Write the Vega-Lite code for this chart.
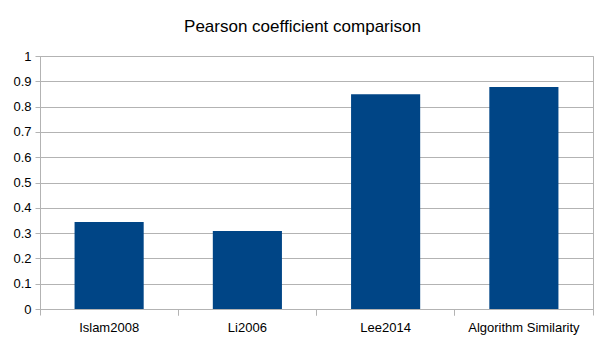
{
  "$schema": "https://vega.github.io/schema/vega-lite/v6.json",
  "width": 553,
  "height": 253,
  "autosize": {"type": "none"},
  "padding": {"left": 40, "top": 56, "right": 12, "bottom": 31},
  "background": "white",
  "title": {"text": "Pearson coefficient comparison", "font": "Liberation Sans", "fontSize": 17, "fontWeight": "normal", "color": "#000000", "offset": 14, "anchor": "middle", "dx": -14},
  "config": {"view": {"stroke": "#b3b3b3", "strokeWidth": 1}},
  "data": {"values": [
    {"method": "Islam2008", "pearson": 0.344},
    {"method": "Li2006", "pearson": 0.308},
    {"method": "Lee2014", "pearson": 0.849},
    {"method": "Algorithm Similarity", "pearson": 0.877}
  ]},
  "layer": [
    {
      "mark": {"type": "bar", "color": "#004586", "width": {"band": 0.5}},
      "encoding": {
        "x": {"field": "method", "type": "nominal", "sort": null, "scale": {"paddingInner": 0, "paddingOuter": 0},
          "axis": {"title": null, "labelAngle": 0, "bandPosition": 0, "labelFont": "Liberation Sans", "labelFontSize": 13, "labelColor": "#000000", "labelPadding": 6, "tickSize": 6, "tickColor": "#b3b3b3", "domainColor": "#b3b3b3", "grid": false, "labelBound": false}},
        "y": {"field": "pearson", "type": "quantitative", "scale": {"domain": [0, 1], "nice": false},
          "axis": {"title": null, "values": [0, 0.1, 0.2, 0.3, 0.4, 0.5, 0.6, 0.7, 0.8, 0.9, 1], "labelOverlap": false, "format": "~g", "labelFont": "Liberation Sans", "labelFontSize": 13, "labelColor": "#000000", "labelPadding": 4, "tickSize": 5, "tickColor": "#b3b3b3", "domainColor": "#b3b3b3", "gridColor": "#b3b3b3", "grid": true}}
      }
    },
    {
      "mark": {"type": "bar", "opacity": 0, "width": {"band": 0.5}},
      "encoding": {
        "x": {"field": "method", "type": "nominal", "sort": null,
          "axis": {"orient": "bottom", "title": null, "labels": false, "domain": false, "grid": false, "bandPosition": 1, "tickSize": 6, "tickColor": "#b3b3b3"}}
      }
    }
  ],
  "resolve": {"axis": {"x": "independent"}}
}
